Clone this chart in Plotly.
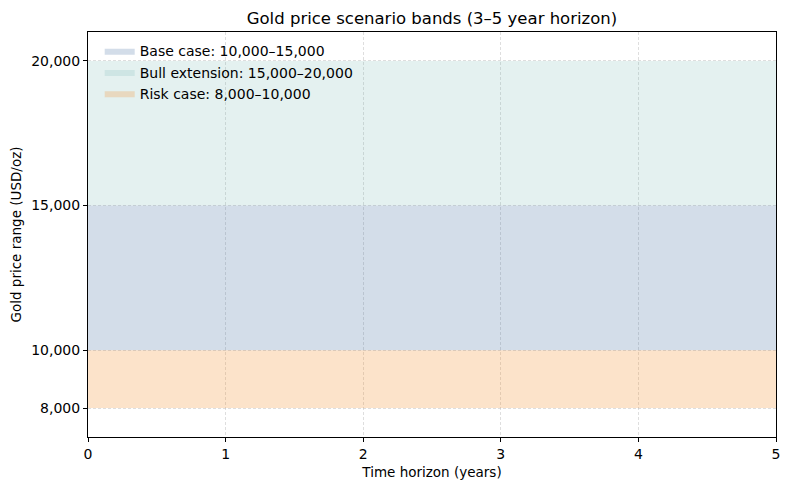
import plotly.graph_objects as go

# Data
band_names = ["Base case: 10,000–15,000", "Bull extension: 15,000–20,000", "Risk case: 8,000–10,000"]
band_low = [10000, 15000, 8000]
band_high = [15000, 20000, 10000]
band_colors = ["rgba(78,121,167,0.25)", "rgba(118,183,178,0.2)", "rgba(242,142,43,0.25)"]
x_start, x_end = 0, 5
y_ticks = [8000, 10000, 15000, 20000]
x_ticks = [0, 1, 2, 3, 4, 5]

fig = go.Figure()
for name, lo, hi, col in zip(band_names, band_low, band_high, band_colors):
    fig.add_trace(go.Scatter(
        x=[x_start, x_end, x_end, x_start, x_start],
        y=[lo, lo, hi, hi, lo],
        fill="toself", fillcolor=col, mode="lines",
        line=dict(width=0), name=name, hoverinfo="name",
    ))

font = "DejaVu Sans, Arial, sans-serif"
axis_common = dict(
    showline=True, linecolor="black", linewidth=1, mirror=True,
    ticks="outside", ticklen=4, tickcolor="black",
    showgrid=True, gridcolor="rgba(190,190,190,0.5)", griddash="3px,2px", gridwidth=0.6,
    zeroline=False, tickfont=dict(size=14, color="black"),
)
fig.update_layout(
    width=782, height=482,
    margin=dict(l=80, r=14, t=24, b=53, autoexpand=False),
    plot_bgcolor="white", paper_bgcolor="white",
    font=dict(family=font, size=14, color="black"),
    title=dict(text="Gold price scenario bands (3–5 year horizon)", x=0.5, xanchor="center",
               xref="paper", y=0.978, yanchor="middle", font=dict(size=16.5)),
    xaxis=dict(range=[x_start, x_end], tickvals=x_ticks, automargin=False,
               title=dict(text="Time horizon (years)", font=dict(size=13.5), standoff=6), **axis_common),
    yaxis=dict(range=[7000, 21000], tickvals=y_ticks, tickformat=",d", automargin=False,
               title=dict(text="Gold price range (USD/oz)", font=dict(size=13.5), standoff=10), **axis_common),
    legend=dict(x=0.017, y=0.992, xanchor="left", yanchor="top", bgcolor="rgba(255,255,255,0)",
                font=dict(size=14), tracegroupgap=0, itemwidth=30),
    showlegend=True,
)
fig.write_html("out.html")
